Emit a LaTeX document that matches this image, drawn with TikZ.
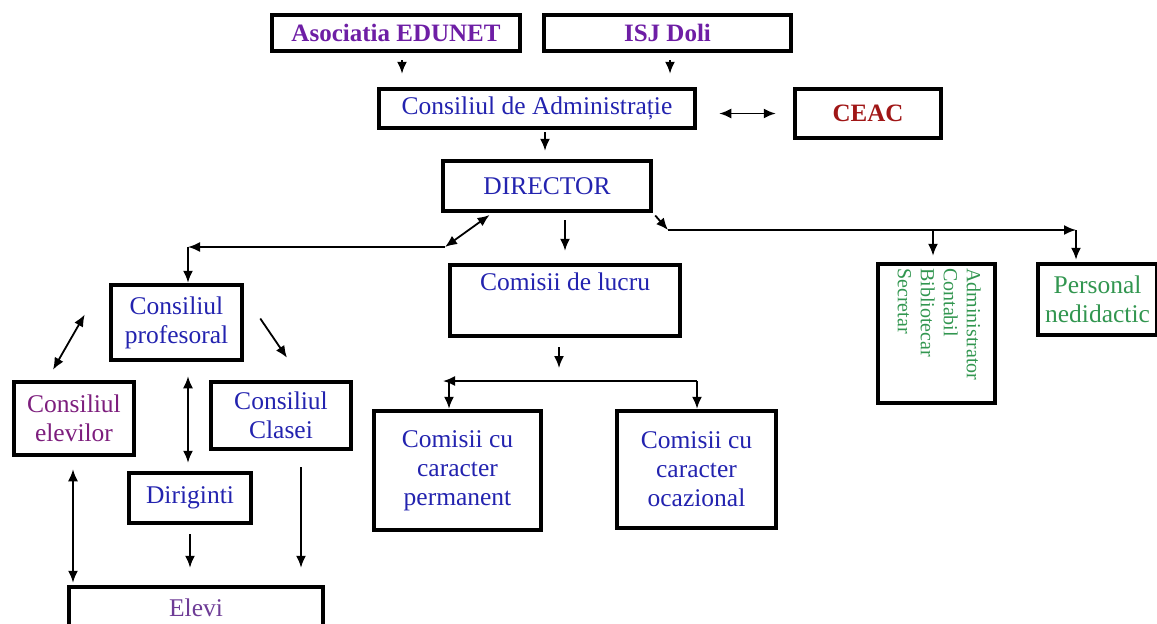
\documentclass[tikz,border=0pt]{standalone}
\usepackage{fontspec}
\setmainfont{Liberation Serif}
\usepackage{tikz}
\usetikzlibrary{arrows, arrows.meta, positioning}
\definecolor{violetasoc}{RGB}{110,30,165}
\definecolor{albastru}{RGB}{35,35,175}
\definecolor{rosuceac}{RGB}{160,22,22}
\definecolor{violetelev}{RGB}{125,30,125}
\definecolor{violetelevi}{RGB}{110,60,150}
\definecolor{verde}{RGB}{50,150,80}
\tikzstyle{caseta} = [draw=black, line width=4.5pt, rectangle, inner sep=0pt, align=center, text=albastru, font=\fontsize{25.5pt}{29pt}\selectfont]
\tikzstyle{sageata} = [-{Latex[length=12pt,width=10pt]}, line width=1.8pt]
\tikzstyle{sageatadubla} = [{Latex[length=12pt,width=10pt]}-{Latex[length=12pt,width=10pt]}, line width=1.8pt]

\begin{document}
\begin{tikzpicture}[x=1pt, y=-1pt]
	\useasboundingbox (0,0) rectangle (1157,624);
	% nivelul de sus
	\node [caseta, text=violetasoc, font=\fontsize{25pt}{29pt}\selectfont\bfseries, minimum width=248pt, minimum height=36pt] (edunet) at (396,33) {Asociatia EDUNET};
	\node [caseta, text=violetasoc, font=\fontsize{25pt}{29pt}\selectfont\bfseries, minimum width=247pt, minimum height=36pt] (isj) at (667.5,33) {ISJ Doli};
	\node [caseta, minimum width=316pt, minimum height=39pt] (cadm) at (537,108.5) {Consiliul de Administrație};
	\node [caseta, text=rosuceac, font=\fontsize{25pt}{29pt}\selectfont\bfseries, minimum width=146pt, minimum height=49pt] (ceac) at (868,113.5) {CEAC};
	\node [caseta, minimum width=208pt, minimum height=50pt] (director) at (547,186) {DIRECTOR};
	% ramura stanga
	\node [caseta, minimum width=131pt, minimum height=75pt] (cprof) at (176.5,322.5) {Consiliul\\profesoral};
	\node [caseta, text=violetelev, minimum width=120pt, minimum height=73pt] (celev) at (74,418.5) {Consiliul\\elevilor};
	\node [caseta, minimum width=140pt, minimum height=67pt] (cclas) at (281,415.5) {Consiliul\\Clasei};
	\node [caseta, minimum width=122pt, minimum height=50pt] (dirig) at (190,498) {Diriginti};
	\node [caseta, text=violetelevi, minimum width=254pt, minimum height=41pt] (elevi) at (196,607.5) {Elevi};
	% comisii
	\node [caseta, minimum width=230pt, minimum height=71pt] (comlucru) at (565,300.5) {Comisii de lucru\\\strut};
	\node [caseta, minimum width=167pt, minimum height=119pt] (cperm) at (457.5,470.5) {Comisii cu\\caracter\\permanent};
	\node [caseta, minimum width=159pt, minimum height=117pt] (cocaz) at (696.5,469.5) {Comisii cu\\caracter\\ocazional};
	% ramura dreapta
	\node [caseta, minimum width=117pt, minimum height=139pt] (admin) at (936.5,333.5) {};
	\node [rotate=-90, anchor=north west, align=left, inner sep=0pt, text=verde, font=\fontsize{20pt}{23pt}\selectfont] (admintxt) at (981,268) {Administrator\\Contabil\\Bibliotecar\\Secretar};
	\node [caseta, text=verde, minimum width=119pt, minimum height=71pt] (persnd) at (1097.5,299.5) {Personal\\nedidactic};

	\coordinate (ramst) at (445,247);
	\coordinate (colt) at (188,247);
	\coordinate (ramdr) at (668,230);
	\coordinate (capdr) at (1076,230);
	\coordinate (ramcst) at (443,381);
	\coordinate (ramcdr) at (697,381);

	\draw [sageata, shorten <=7pt, shorten >=13pt] ([xshift=6pt]edunet.south) -- ([xshift=6pt]edunet.south |- cadm.north);
	\draw [sageata, shorten <=7pt, shorten >=13pt] ([xshift=2.5pt]isj.south) -- ([xshift=2.5pt]isj.south |- cadm.north);
	\draw [sageatadubla, shorten <=22pt, shorten >=17pt] (cadm.east |- ceac.west) -- (ceac.west);
	\draw [sageata, shorten <=2pt, shorten >=8pt] ([xshift=8pt]cadm.south) -- ([xshift=8pt]cadm.south |- director.north);
	% director
	\draw [sageatadubla, shorten >=3pt] (ramst) -- ([xshift=-55pt]director.south);
	\draw [sageata] (ramst) -- (colt);
	\draw [sageata] (colt) -- (colt |- cprof.north);
	\draw [sageata, shorten <=7pt, shorten >=12pt] (comlucru.north |- director.south) -- (comlucru.north);
	\draw [sageata, shorten <=3pt] (director.south east) -- (ramdr);
	\draw [sageata] (ramdr) -- (capdr);
	\draw [sageata, shorten >=2pt] (capdr) -- (capdr |- persnd.north);
	\draw [sageata, shorten >=6pt] ([xshift=-3.5pt]admin.north |- ramdr) -- ([xshift=-3.5pt]admin.north);
	% consilii
	\draw [sageatadubla] ([xshift=-24pt, yshift=8pt]cprof.west) -- ([xshift=-21pt, yshift=10pt]celev.north);
	\draw [sageata] ([xshift=16pt, yshift=4pt]cprof.east) -- ([xshift=6pt, yshift=22pt]cclas.north);
	\draw [sageatadubla, shorten <=14pt, shorten >=8pt] ([xshift=-2pt]dirig.north |- cprof.south) -- ([xshift=-2pt]dirig.north);
	\draw [sageata, shorten <=9pt, shorten >=17pt] (dirig.south) -- (dirig.south |- elevi.north);
	\draw [sageata, shorten <=16pt, shorten >=17pt] ([xshift=20pt]cclas.south) -- ([xshift=20pt]cclas.south |- elevi.north);
	\draw [sageatadubla, shorten <=12pt, shorten >=2pt] ([xshift=-1pt]celev.south) -- ([xshift=-1pt]celev.south |- elevi.north);
	% comisii
	\draw [sageata, shorten <=9pt, shorten >=13pt] ([xshift=-6pt]comlucru.south) -- ([xshift=-6pt]comlucru.south |- ramcst);
	\draw [sageata] (ramcdr) -- (ramcst);
	\draw [sageata] ([xshift=6pt]ramcst) -- ([xshift=6pt]ramcst |- cperm.north);
	\draw [sageata] (ramcdr) -- (ramcdr |- cocaz.north);
\end{tikzpicture}
\end{document}
